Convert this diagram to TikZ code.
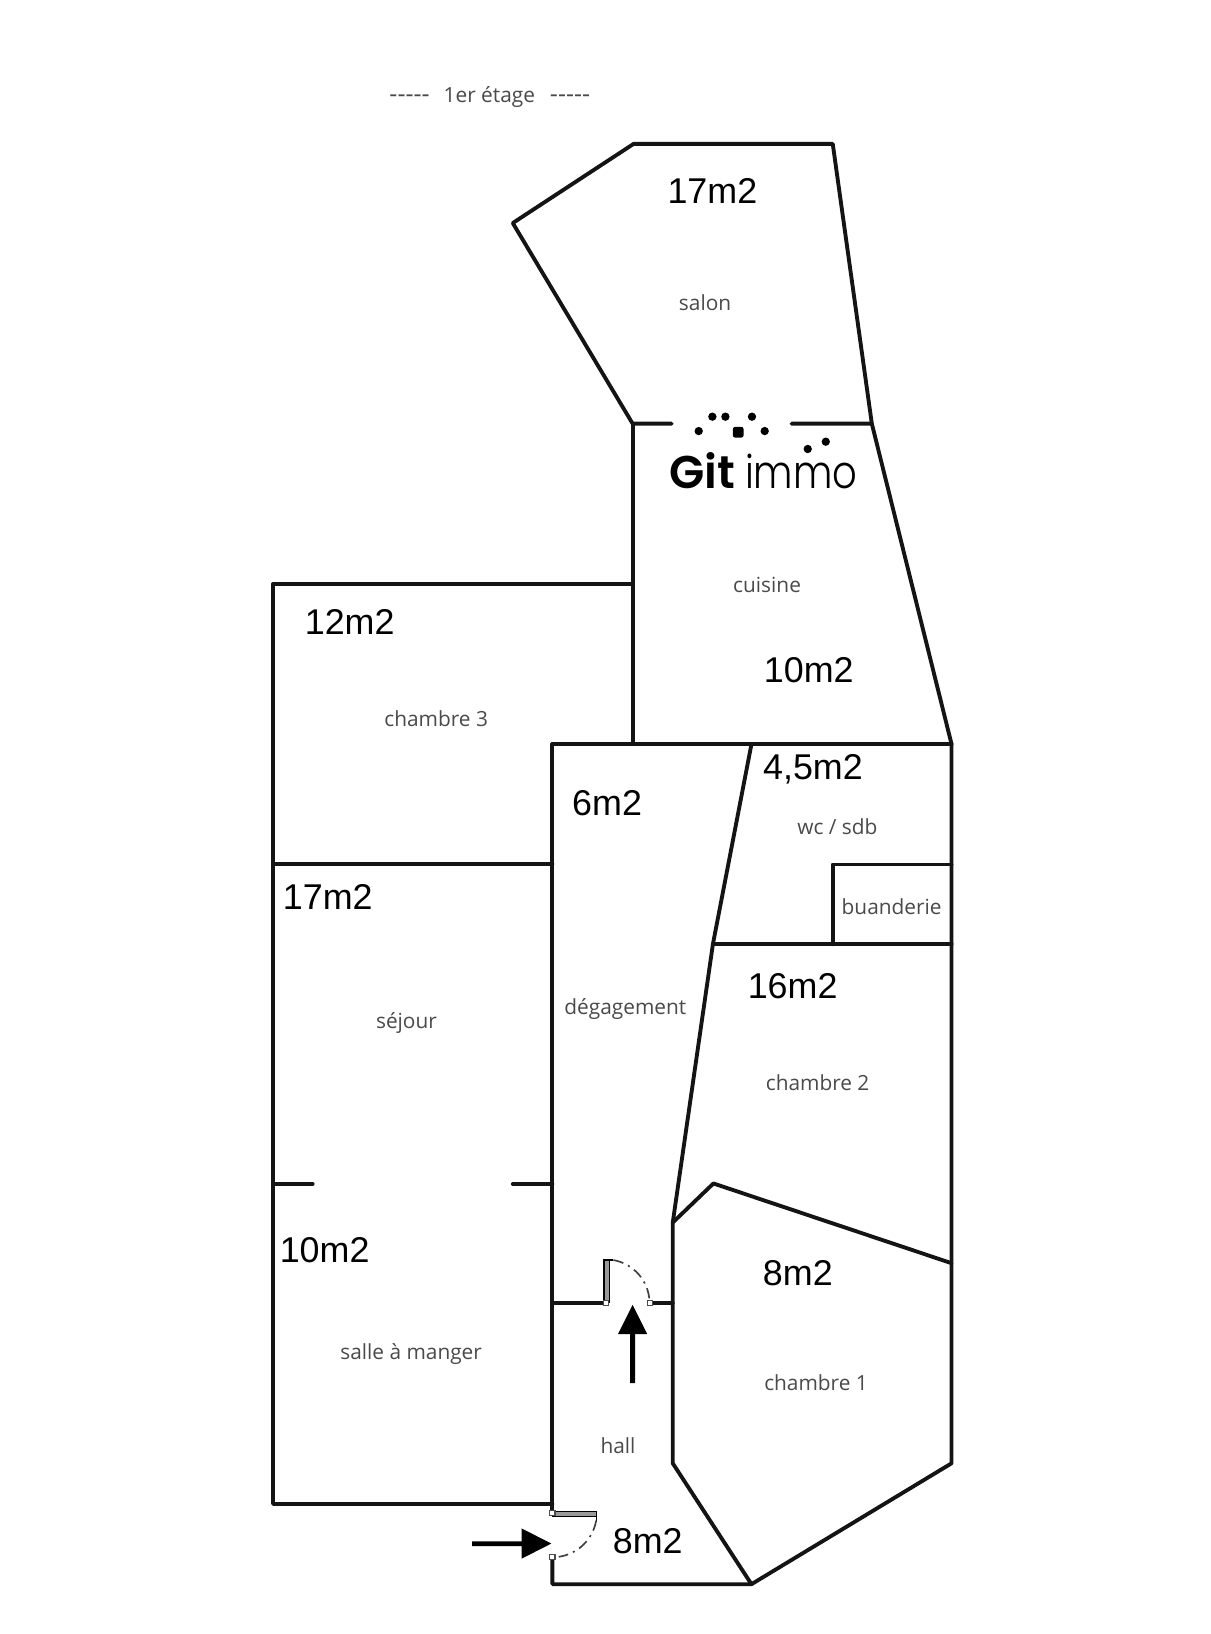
\documentclass[tikz,border=0pt]{standalone}
\usepackage{fontspec}
\setmainfont{Liberation Sans}
\newfontfamily\roomfont{Open Sans}
\newfontfamily\gitbold{Poppins}[UprightFont=*-SemiBold]
\newfontfamily\gitlight{Poppins}[UprightFont=*-Light]
\definecolor{roomgray}{HTML}{4A4A4A}
\begin{document}
\begin{tikzpicture}[x=0.5pt,y=-0.5pt,
  wall/.style={line width=1.85pt,line cap=round,line join=round,black!92},
  area/.style={anchor=base,inner sep=0pt,font=\fontsize{17.2}{20}\selectfont,text=black},
  room/.style={anchor=base,inner sep=0pt,font=\roomfont\fontsize{10}{12}\selectfont,text=roomgray},
  knob/.style={draw=black!70,fill=white,line width=0.5pt,minimum size=2.5pt,inner sep=0pt,rectangle},
  leaf/.style={draw=black,line width=0.6pt,fill=black!40},
  swing/.style={line width=0.8pt,black!75,dash pattern=on 5pt off 2.5pt on 1pt off 2.5pt},
  dotmark/.style={circle,fill=black,inner sep=0pt,minimum size=4pt},
  bigarrow/.style={fill=black,draw=none}]
\useasboundingbox[fill=white] (0,0) rectangle (1161,1567.8);
% outer walls
\draw[wall] (644.5,406.5) -- (607,406.5) -- (492,214) -- (608,138) -- (799,138) -- (836.5,406.5) -- (759.5,406.5);
\draw[wall] (607,406.5) -- (607,714);
\draw[wall] (836.5,406.5) -- (913,714) -- (913,1404) -- (721,1520) -- (530,1520) -- (530,1495);
\draw[wall] (530,714) -- (913,714);
\draw[wall] (607,560.5) -- (262,560.5) -- (262,1443) -- (530,1443);
\draw[wall] (262,829) -- (530,829);
\draw[wall] (530,714) -- (530,1449);
\draw[wall] (262,1136) -- (300,1136);
\draw[wall] (492,1136) -- (530,1136);
\draw[wall] (721,714) -- (684,906) -- (645.5,1173);
\draw[wall] (684,906) -- (913,906);
\draw[wall] (799,906) -- (799,829.5) -- (913,829.5);
\draw[wall] (913,1212) -- (684.5,1135.5) -- (645.5,1173) -- (645.5,1404) -- (721,1520);
\draw[wall] (530,1250.5) -- (581.5,1250.5);
\draw[wall] (623.5,1250.5) -- (645.5,1250.5);
% upper door
\draw[leaf] (579.5,1250) rectangle (585,1209);
\draw[line width=0.7pt,black] (579.5,1209) -- (588.5,1209);
\draw[swing] (588.5,1209) arc[start angle=-80,end angle=-3,radius=42];
\node[knob] (knobA) at (581.5,1250.5) {};
\node[knob] (knobB) at (623.5,1250.5) {};
\draw[bigarrow] (607,1252) -- (621,1280) -- (609.3,1280) -- (609.3,1327) -- (604.7,1327) -- (604.7,1280) -- (593,1280) -- cycle;
% entrance door
\draw[leaf] (530,1450.5) rectangle (572.5,1455);
\draw[line width=0.7pt,black] (572.5,1450.5) -- (572.5,1459);
\draw[swing] (572,1459) arc[start angle=10,end angle=82,radius=42.5];
\node[knob] (knobC) at (530,1452) {};
\node[knob] (knobD) at (530,1494) {};
\draw[bigarrow] (529,1481) -- (500.5,1495.5) -- (500.5,1483.5) -- (453,1483.5) -- (453,1478.8) -- (500.5,1478.8) -- (500.5,1466.5) -- cycle;
% logo
\node[dotmark] (d1) at (670.4,413.6) {};
\node[dotmark] (d2) at (683.5,399.8) {};
\node[dotmark] (d3) at (696,399.8) {};
\node[dotmark] (d4) at (721.5,399.8) {};
\node[dotmark] (d5) at (733.7,413.6) {};
\node[dotmark] (d6) at (775,430.8) {};
\node[dotmark] (d7) at (792.3,423.8) {};
\fill[black,rounded corners=1pt] (703.2,409.6) rectangle (713.4,419.8);
\node[anchor=base west,inner sep=0pt,font=\gitbold\fontsize{22}{26}\selectfont] (git) at (642,468.6) {Git};
\node[anchor=base west,inner sep=0pt,font=\gitlight\fontsize{22}{26}\selectfont] (immo) at (714.5,468.6) {\scalebox{0.84}[1]{immo}};
% title
\node[room,font=\roomfont\fontsize{12}{14}\selectfont] (dashL) at (393,98) {-----};
\node[room] (title) at (469.5,98.5) {1er étage};
\node[room,font=\roomfont\fontsize{12}{14}\selectfont] (dashR) at (547,98) {-----};
% area labels
\node[area] (a1) at (683.5,195) {17m2};
\node[area] (a2) at (335.5,609) {12m2};
\node[area] (a3) at (776,655) {10m2};
\node[area] (a4) at (780,748) {4,5m2};
\node[area] (a5) at (582.5,782) {6m2};
\node[area] (a6) at (314.5,873) {17m2};
\node[area] (a7) at (760.5,958) {16m2};
\node[area] (a8) at (765.5,1233) {8m2};
\node[area] (a9) at (311.5,1211) {10m2};
\node[area] (a10) at (621.5,1491) {8m2};
% room labels
\node[room] (r1) at (676.5,298) {salon};
\node[room] (r2) at (418.5,697) {chambre 3};
\node[room] (r3) at (736,568.5) {cuisine};
\node[room] (r4) at (803.5,801) {wc / sdb};
\node[room] (r5) at (855.5,877) {buanderie};
\node[room] (r6) at (390,987) {séjour};
\node[room] (r7) at (600,973) {dégagement};
\node[room] (r8) at (784.5,1046) {chambre 2};
\node[room] (r9) at (783,1334) {chambre 1};
\node[room] (r10) at (394.5,1304) {salle à manger};
\node[room] (r11) at (593,1395) {hall};
\end{tikzpicture}
\end{document}
